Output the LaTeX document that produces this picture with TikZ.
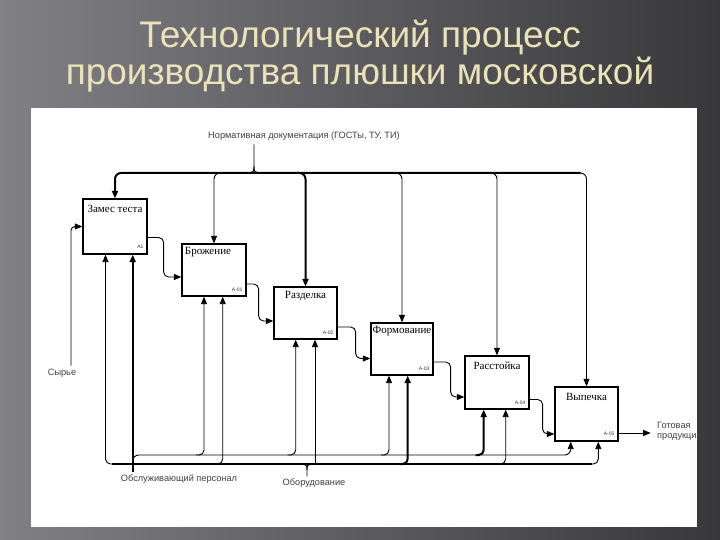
\documentclass[tikz,border=0pt]{standalone}
\usepackage{fontspec}
\setmainfont{Liberation Serif}
\newfontfamily\sansf{Liberation Sans}
\usetikzlibrary{arrows.meta,calc}
\definecolor{titlecol}{RGB}{234,226,184}
\definecolor{bgl}{RGB}{128,128,133}
\definecolor{bgr}{RGB}{56,56,58}
\begin{document}
\begin{tikzpicture}[x=1pt,y=-1pt,
  thinl/.style={line width=0.9pt},
  thickl/.style={line width=2pt},
  arr/.style={-{Triangle[length=7.5pt,width=6pt]}},
  box/.style={draw, line width=1.3pt, fill=white, inner sep=0pt},
  btitle/.style={font=\fontsize{11}{11}\selectfont, inner sep=0pt},
  code/.style={font=\sansf\fontsize{5}{5}\selectfont, inner sep=0pt, text=black!80},
  lbl/.style={font=\sansf\fontsize{9.2}{10}\selectfont, text=black!75, inner sep=0pt},
  ttl/.style={font=\sansf\fontsize{37}{37}\selectfont, text=titlecol, inner sep=0pt}]
\useasboundingbox (0,0) rectangle (720,540);
\shade[left color=bgl, right color=bgr] (0,0) rectangle (720,540);
\fill[white] (31,108) rectangle (697,527);

\node[ttl] (t1) at (360,38) {Технологический процесс};
\node[ttl] (t2) at (360,75) {производства плюшки московской};

% boxes
\node[box, minimum width=64, minimum height=55] (b1) at (115,226.5) {};
\node[box, minimum width=64, minimum height=52] (b2) at (214,270) {};
\node[box, minimum width=63, minimum height=52] (b3) at (305.5,313) {};
\node[box, minimum width=62, minimum height=52] (b4) at (402,349) {};
\node[box, minimum width=64, minimum height=53] (b5) at (497,382.5) {};
\node[box, minimum width=63, minimum height=54] (b6) at (586.5,414) {};

\node[btitle] (n1) at ($(b1.north)+(0,11)$) {Замес теста};
\node[btitle] (n2) at ($(b2.north)+(-6,9)$) {Брожение};
\node[btitle] (n3) at ($(b3.north)+(0,10)$) {Разделка};
\node[btitle] (n4) at ($(b4.north)+(0,9)$) {Формование};
\node[btitle] (n5) at ($(b5.north)+(0,10)$) {Расстойка};
\node[btitle] (n6) at ($(b6.north)+(0,11)$) {Выпечка};

\node[code, anchor=east] (c1) at ($(b1.south east)+(-4,-8)$) {А1};
\node[code, anchor=east] (c2) at ($(b2.south east)+(-4,-7)$) {А-01};
\node[code, anchor=east] (c3) at ($(b3.south east)+(-4,-7)$) {А-02};
\node[code, anchor=east] (c4) at ($(b4.south east)+(-4,-7)$) {А-03};
\node[code, anchor=east] (c5) at ($(b5.south east)+(-4,-7)$) {А-04};
\node[code, anchor=east] (c6) at ($(b6.south east)+(-4,-8)$) {А-05};

% labels
\node[lbl] (nd) at (304,136) {Нормативная документация (ГОСТы, ТУ, ТИ)};
\node[lbl] (syr) at (62,373) {Сырье};
\node[lbl] (pers) at (179,479) {Обслуживающий персонал};
\node[lbl] (eq) at (314,483) {Оборудование};
\node[lbl, align=left, anchor=west] (gp) at (657,431) {Готовая\\продукция};

% coordinates
\coordinate (Ty) at (0,173);
\coordinate (Ay) at (0,455);
\coordinate (By) at (0,464);
\coordinate (jn) at (254,173);
\coordinate (jq) at (307,464);
\coordinate (m1a) at ($(b1.south)+(-9.5,0)$);
\coordinate (m1b) at ($(b1.south)+(17.7,0)$);
\coordinate (m2a) at ($(b2.south)+(-10,0)$);
\coordinate (m2b) at ($(b2.south)+(8.7,0)$);
\coordinate (m3a) at ($(b3.south)+(-9.8,0)$);
\coordinate (m3b) at ($(b3.south)+(9.5,0)$);
\coordinate (m4a) at ($(b4.south)+(-13,0)$);
\coordinate (m4b) at ($(b4.south)+(5.7,0)$);
\coordinate (m5a) at ($(b5.south)+(-13.3,0)$);
\coordinate (m5b) at ($(b5.south)+(8.7,0)$);
\coordinate (m6a) at ($(b6.south)+(-15.8,0)$);
\coordinate (m6b) at ($(b6.south)+(11.8,0)$);
\coordinate (o6) at ($(b6.east)+(0,19)$);
\coordinate (oe) at ($(o6)+(32,0)$);

% controls
\draw[thinl] ($(jn |- nd.south)+(0,4)$) -- ($(jn)+(0,-7)$) .. controls ($(jn)+(0,-1)$) .. ($(jn)+(-7,0)$);
\draw[thinl] ($(jn)+(0,-7)$) .. controls ($(jn)+(0,-1)$) .. ($(jn)+(7,0)$);
\draw[thickl,arr,rounded corners=6] ($(b6.north |- Ty)+(-6,0)$) -- (b1.north |- Ty) -- (b1.north);
\draw[thinl,arr,rounded corners=6] ($(b2.north |- Ty)+(9,0)$) -| (b2.north);
\draw[thickl,arr,rounded corners=6] ($(b3.north |- Ty)+(-9,0)$) -| (b3.north);
\draw[thinl,arr,rounded corners=6] ($(b4.north |- Ty)+(-9,0)$) -| (b4.north);
\draw[thinl,arr,rounded corners=6] ($(b5.north |- Ty)+(-9,0)$) -| (b5.north);
\draw[thinl,arr,rounded corners=6] ($(b6.north |- Ty)+(-9,0)$) -| (b6.north);

% input
\draw[thinl,arr,rounded corners=4] ($(syr.north)+(9,-3)$) |- (b1.west);

% outputs
\draw[thinl,arr,rounded corners=5] ($(b1.east)+(0,11)$) -- ++(16,0) |- ($(b2.west)+(0,7)$);
\draw[thinl,arr,rounded corners=5] ($(b2.east)+(0,14)$) -- ++(12,0) |- ($(b3.west)+(0,8)$);
\draw[thinl,arr,rounded corners=5] ($(b3.east)+(0,14)$) -- ++(18,0) |- ($(b4.west)+(0,9.5)$);
\draw[thinl,arr,rounded corners=5] ($(b4.east)+(0,13)$) -- ++(17,0) |- ($(b5.west)+(0,14.5)$);
\draw[thinl,arr,rounded corners=5] ($(b5.east)+(0,17)$) -- ++(13,0) |- ($(b6.west)+(0,20)$);
\draw[thinl,arr] (o6) -- (oe);

% mechanisms: personnel
\draw[thickl,arr] ($(m1b |- pers.north)+(0,-2)$) -- (m1b);
\draw[thinl,arr,rounded corners=6] ($(m1b |- Ay)+(0,8)$) -- (m1b |- Ay) -- (m6a |- Ay) -- (m6a);
\draw[thinl,arr,rounded corners=5] ($(m2a |- Ay)+(-8,0)$) -| (m2a);
\draw[thinl,arr,rounded corners=5] ($(m3a |- Ay)+(-8,0)$) -| (m3a);
\draw[thinl,arr,rounded corners=5] ($(m4a |- Ay)+(-8,0)$) -| (m4a);
\draw[thickl,arr,rounded corners=5] ($(m5a |- Ay)+(-8,0)$) -| (m5a);

% mechanisms: equipment
\draw[thinl] ($(jq |- eq.north)+(0,-2)$) -- ($(jq)+(0,6)$) .. controls ($(jq)+(0,1)$) .. ($(jq)+(-6,0)$);
\draw[thinl] ($(jq)+(0,6)$) .. controls ($(jq)+(0,1)$) .. ($(jq)+(6,0)$);
\draw[thickl] ($(m1a |- By)+(6,0)$) -- ($(m6b |- By)+(-6,0)$);
\draw[thinl,arr,rounded corners=5] ($(m1a |- By)+(8,0)$) -| (m1a);
\draw[thinl,arr,rounded corners=5] ($(m2b |- By)+(-8,0)$) -| (m2b);
\draw[thinl,arr] (m3b |- By) -- (m3b);
\draw[thickl,arr,rounded corners=5] ($(m4b |- By)+(-8,0)$) -| (m4b);
\draw[thinl,arr,rounded corners=5] ($(m5b |- By)+(-8,0)$) -| (m5b);
\draw[thinl,arr,rounded corners=5] ($(m6b |- By)+(-8,0)$) -| (m6b);
\end{tikzpicture}
\end{document}
